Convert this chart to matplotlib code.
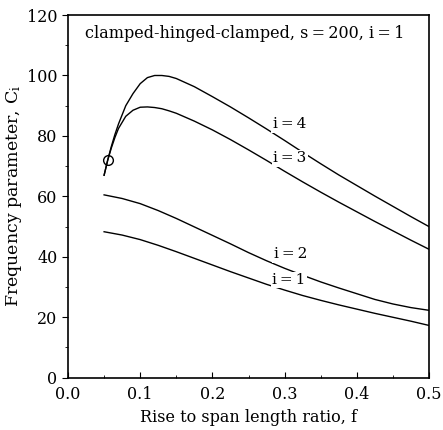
import numpy as np
import matplotlib
matplotlib.use("Agg")
import matplotlib.pyplot as plt
from matplotlib.ticker import MultipleLocator

# values
f_upper = [0.05, 0.055, 0.06, 0.065, 0.07, 0.08, 0.09, 0.10, 0.11, 0.12, 0.13, 0.14,
           0.15, 0.175, 0.20, 0.225, 0.25, 0.275, 0.30, 0.325, 0.35, 0.375, 0.40,
           0.425, 0.45, 0.475, 0.50]
c_mode4 = [67.0, 72.0, 76.5, 80.5, 84.0, 90.0, 94.0, 97.3, 99.3, 100.0, 100.0, 99.7,
           99.0, 96.3, 93.0, 89.6, 86.0, 82.3, 78.5, 74.6, 70.8, 67.1, 63.6,
           60.1, 56.7, 53.3, 50.0]
c_mode3 = [67.0, 72.0, 76.0, 79.5, 82.5, 86.5, 88.5, 89.5, 89.6, 89.4, 89.0, 88.3,
           87.5, 84.9, 82.0, 78.8, 75.4, 71.9, 68.3, 64.8, 61.4, 58.1, 54.9,
           51.7, 48.6, 45.5, 42.5]
f_lower = [0.05, 0.075, 0.10, 0.125, 0.15, 0.175, 0.20, 0.225, 0.25, 0.275, 0.30,
           0.325, 0.35, 0.375, 0.40, 0.425, 0.45, 0.475, 0.50]
c_mode2 = [60.5, 59.3, 57.6, 55.3, 52.7, 49.9, 47.1, 44.3, 41.4, 38.7, 36.2,
           33.9, 31.7, 29.7, 27.8, 25.9, 24.4, 23.2, 22.3]
c_mode1 = [48.3, 47.2, 45.7, 43.8, 41.7, 39.5, 37.3, 35.1, 33.0, 30.9, 29.0,
           27.2, 25.6, 24.1, 22.7, 21.3, 20.0, 18.7, 17.3]
mark_f, mark_c = [0.055], [72.0]
curve_labels = ["i\u2009=\u20091", "i\u2009=\u20092", "i\u2009=\u20093", "i\u2009=\u20094"]
label_f = [0.306, 0.308, 0.3075, 0.3065]
label_c = [32.3, 40.8, 72.6, 83.9]

plt.rcParams['font.family'] = ['DejaVu Serif']
plt.rcParams['mathtext.fontset'] = 'dejavuserif'

fig = plt.figure(figsize=(4.43, 4.30), dpi=100)
ax = fig.add_axes([0.1535, 0.1216, 0.8149, 0.8434])

for cs, fs in [(c_mode1, f_lower), (c_mode2, f_lower), (c_mode3, f_upper), (c_mode4, f_upper)]:
    ax.plot(fs, cs, color='black', linewidth=1.0, zorder=2)

ax.plot(mark_f, mark_c, linestyle='none', marker='o', markersize=7,
        markerfacecolor='none', markeredgecolor='black', markeredgewidth=1.0, zorder=3)

for txt, x, y in zip(curve_labels, label_f, label_c):
    ax.text(x, y, txt, ha='center', va='center', fontsize=11, zorder=4,
            bbox=dict(facecolor='white', edgecolor='none', pad=1.0))

ax.text(0.245, 114, "clamped-hinged-clamped, s\u2009=\u2009200, i\u2009=\u20091",
        ha='center', va='center', fontsize=11.5)

ax.set_xlim(0, 0.5)
ax.set_ylim(0, 120)
ax.xaxis.set_major_locator(MultipleLocator(0.1))
ax.xaxis.set_minor_locator(MultipleLocator(0.05))
ax.yaxis.set_major_locator(MultipleLocator(20))
ax.yaxis.set_minor_locator(MultipleLocator(10))
ax.xaxis.set_major_formatter(matplotlib.ticker.FormatStrFormatter('%.1f'))
ax.tick_params(axis='x', which='both', direction='in', labelsize=11.5, pad=6)
ax.tick_params(axis='x', which='major', length=4)
ax.tick_params(axis='x', which='minor', length=2.5)
ax.tick_params(axis='y', which='both', direction='out', labelsize=11.5)
ax.tick_params(axis='y', which='major', length=4)
ax.tick_params(axis='y', which='minor', length=2.5)
for sp in ax.spines.values():
    sp.set_linewidth(1.2)

ax.set_xlabel("Rise to span length ratio, f", fontsize=11.5)
ax.set_ylabel("Frequency parameter, C$_\\mathregular{i}$", fontsize=12.5, labelpad=2)

fig.savefig("out.png", dpi=100)
